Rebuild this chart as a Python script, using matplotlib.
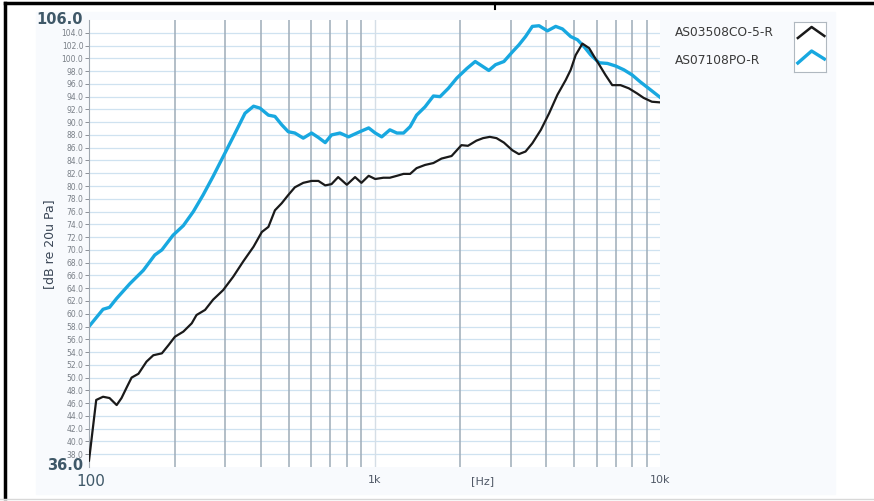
import numpy as np
import matplotlib.pyplot as plt
from matplotlib.ticker import FixedLocator, NullFormatter
from matplotlib.lines import Line2D

# AS07108PO-R (blue)
f_blue = [100, 112, 118, 125, 139, 155, 170, 180, 197, 214, 232, 251, 272, 295, 320,
          352, 377, 397, 425, 448, 473, 499, 526, 563, 602, 636, 672, 707, 757, 811,
          888, 954, 1006, 1060, 1132, 1198, 1264, 1333, 1404, 1503, 1608, 1697, 1814,
          1942, 2106, 2253, 2380, 2514, 2654, 2840, 3040, 3204, 3380, 3572, 3771,
          4034, 4312, 4553, 4867, 5141, 5426, 5728, 6125, 6542, 6990, 7472, 7986,
          8535, 9121, 10000]
db_blue = [58.0, 60.7, 61.0, 62.4, 64.7, 66.8, 69.2, 70.0, 72.3, 73.8, 76.0, 78.6, 81.5,
           84.6, 87.7, 91.4, 92.5, 92.2, 91.1, 90.9, 89.6, 88.5, 88.3, 87.5, 88.3, 87.6,
           86.8, 88.0, 88.3, 87.7, 88.5, 89.1, 88.3, 87.7, 88.8, 88.3, 88.3, 89.3, 91.1,
           92.4, 94.1, 94.0, 95.3, 96.9, 98.4, 99.5, 98.8, 98.1, 99.0, 99.5, 101.0,
           102.1, 103.4, 105.0, 105.1, 104.3, 105.0, 104.6, 103.4, 102.9, 101.8, 100.5,
           99.3, 99.2, 98.8, 98.2, 97.4, 96.3, 95.3, 93.9]

# AS03508CO-5-R (black)
f_black = [100, 106, 112, 118, 125, 130, 136, 141, 149, 159, 168, 180, 190, 200, 214,
           229, 238, 255, 272, 295, 320, 347, 377, 403, 425, 448, 473, 499, 526, 563,
           602, 636, 672, 707, 746, 800, 855, 900, 954, 1006, 1074, 1132, 1198, 1264,
           1333, 1404, 1503, 1608, 1717, 1862, 2016, 2125, 2274, 2400, 2534, 2675,
           2840, 3040, 3204, 3380, 3572, 3826, 4090, 4373, 4675, 4867, 5065, 5349,
           5645, 5875, 6125, 6440, 6803, 7273, 7777, 8314, 8764, 9369, 10000]
db_black = [37.0, 46.5, 47.0, 46.8, 45.7, 46.8, 48.6, 50.0, 50.6, 52.5, 53.5, 53.8, 55.1,
            56.4, 57.2, 58.5, 59.8, 60.6, 62.2, 63.7, 65.8, 68.2, 70.5, 72.8, 73.6,
            76.2, 77.3, 78.6, 79.8, 80.5, 80.8, 80.8, 80.1, 80.3, 81.4, 80.2, 81.4,
            80.5, 81.6, 81.1, 81.3, 81.3, 81.6, 81.9, 81.9, 82.8, 83.3, 83.6, 84.3,
            84.7, 86.4, 86.3, 87.1, 87.5, 87.7, 87.5, 86.8, 85.6, 85.0, 85.4, 86.7,
            88.8, 91.4, 94.3, 96.6, 98.2, 100.5, 102.3, 101.6, 100.3, 99.0, 97.4, 95.8,
            95.8, 95.3, 94.5, 93.8, 93.2, 93.1]

labels = ['AS03508CO-5-R', 'AS07108PO-R']
colors = ['#1a1a1a', '#18a8e0']

fig = plt.figure(figsize=(8.74, 5.01), dpi=100)

# outer panel and frame
fig.patches.append(plt.Rectangle((36 / 874, 1 - 494 / 501), 799 / 874, 482 / 501,
                                 transform=fig.transFigure, color='#f8fafd', zorder=-2))
fig.add_artist(Line2D([5 / 874, 5 / 874], [0.006, 1 - 3 / 501], color='black', lw=2.5))
fig.add_artist(Line2D([5 / 874, 1], [1 - 3 / 501, 1 - 3 / 501], color='black', lw=2.5))
fig.add_artist(Line2D([495 / 874, 495 / 874], [1 - 3 / 501, 1 - 9 / 501], color='black', lw=1.5))
fig.add_artist(Line2D([0, 1], [1 - 499 / 501, 1 - 499 / 501], color='#d8d8d8', lw=1))

ax = fig.add_axes([89 / 874, 1 - 467 / 501, 571 / 874, 447 / 501])
ax.set_facecolor('white')
ax.set_xscale('log')
ax.set_xlim(100, 10000)
ax.set_ylim(36, 106)

# grid
for y in np.arange(38, 106, 2):
    ax.axhline(y, color='#cfe2f0', lw=0.9, zorder=0)
minors = [m * d for d in (100, 1000) for m in range(2, 10)]
for x in minors:
    ax.axvline(x, color='#9eacb8', lw=1.1, zorder=0)
ax.axvline(1000, color='#d5dee6', lw=1.0, zorder=0)

ax.plot(f_black, db_black, color=colors[0], lw=1.6, zorder=3)
ax.plot(f_blue, db_blue, color=colors[1], lw=2.4, zorder=2)

for s in ax.spines.values():
    s.set_visible(False)
ax.spines['left'].set_visible(True)
ax.spines['left'].set_color('#a0a8b0')

yt = np.arange(38, 106, 2)
ax.yaxis.set_major_locator(FixedLocator(yt))
ax.set_yticklabels(['%.1f' % v for v in yt], fontsize=5.5, color='#7a8088')
ax.tick_params(axis='y', length=3, width=0.6, color='#7a8088', pad=1)
ax.xaxis.set_major_locator(FixedLocator([1000, 10000]))
ax.set_xticklabels(['1k', '10k'], fontsize=8, color='#505866')
ax.xaxis.set_minor_formatter(NullFormatter())
ax.tick_params(axis='x', which='both', length=0, pad=6)

# end labels
fig.text(83 / 874, 1 - 20 / 501, '106.0', ha='right', va='center', fontsize=10.5,
         fontweight='bold', color='#3f5868')
fig.text(83 / 874, 1 - 466 / 501, '36.0', ha='right', va='center', fontsize=10.5,
         fontweight='bold', color='#3f5868')
fig.text(91 / 874, 1 - 481 / 501, '100', ha='center', va='center', fontsize=11,
         color='#3f5868')
fig.text(483 / 874, 1 - 481 / 501, '[Hz]', ha='center', va='center', fontsize=8,
         color='#505866')
fig.text(50 / 874, 1 - 244 / 501, '[dB re 20u Pa]', ha='center', va='center', fontsize=9,
         rotation=90, color='#3a4656')

# legend
fig.text(675 / 874, 1 - 33 / 501, labels[0], ha='left', va='center', fontsize=8.8, color='#3a3a3a')
fig.text(675 / 874, 1 - 61 / 501, labels[1], ha='left', va='center', fontsize=8.8, color='#3a3a3a')
lax = fig.add_axes([794 / 874, 1 - 72 / 501, 32 / 874, 50 / 501])
lax.set_xlim(0, 1)
lax.set_ylim(0, 1)
lax.set_xticks([])
lax.set_yticks([])
lax.set_facecolor('white')
for s in lax.spines.values():
    s.set_color('#b0b8c0')
    s.set_linewidth(0.8)
lax.plot([0.12, 0.55, 0.95], [0.68, 0.9, 0.72], color=colors[0], lw=1.8)
lax.plot([0.12, 0.55, 0.95], [0.18, 0.42, 0.26], color=colors[1], lw=2.4)

fig.savefig('out.png', dpi=100)
